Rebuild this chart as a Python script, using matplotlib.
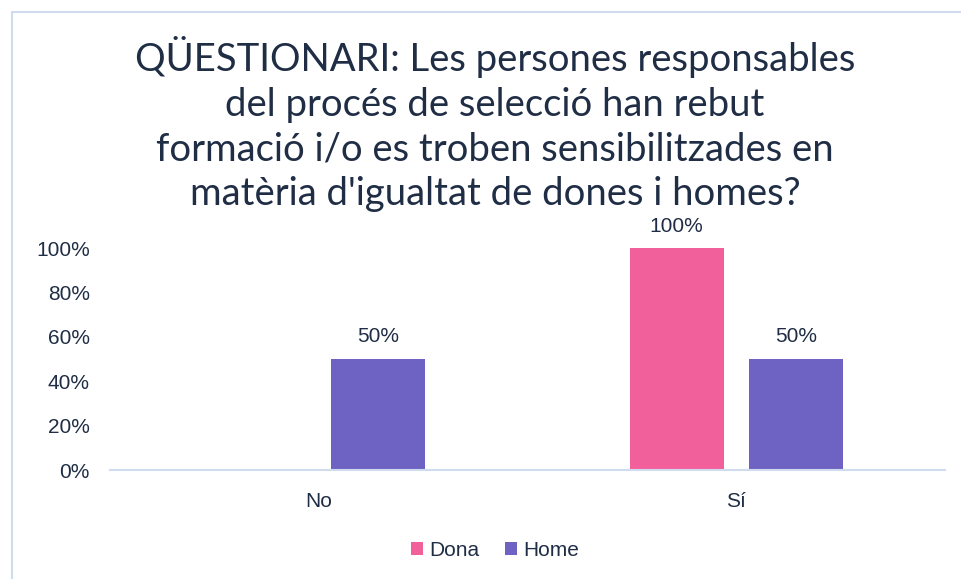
import matplotlib.pyplot as plt
from matplotlib.patches import Rectangle

categories = ['No', 'Sí']
dona = [0, 100]
home = [50, 50]
dona_labels = ['', '100%']
home_labels = ['50%', '50%']
title = ("QÜESTIONARI: Les persones responsables\n"
         "del procés de selecció han rebut\n"
         "formació i/o es troben sensibilitzades en\n"
         "matèria d'igualtat de dones i homes?")

text_col = '#1f2d45'
pink = '#f2609b'
purple = '#6e63c2'
grid_col = '#d0dcee'

plt.rcParams['font.family'] = 'sans-serif'
plt.rcParams['font.sans-serif'] = ['Liberation Sans']

fig = plt.figure(figsize=(9.61, 5.79), dpi=100)
fig.patches.append(Rectangle((12 / 961, -0.05), 1.0, 1 - 12 / 579 + 0.05,
                             transform=fig.transFigure, fill=False,
                             edgecolor=grid_col, linewidth=1.5))

ax = fig.add_axes([110 / 961, (579 - 470) / 579, 835 / 961, 222 / 579])
x = list(range(len(categories)))
off = 0.143
w = 0.225
b1 = ax.bar([i - off for i in x], dona, w, color=pink, label='Dona')
b2 = ax.bar([i + off for i in x], home, w, color=purple, label='Home')
for rects, labs in [(b1, dona_labels), (b2, home_labels)]:
    for r, lab in zip(rects, labs):
        if lab:
            ax.annotate(lab, (r.get_x() + r.get_width() / 2, r.get_height()),
                        xytext=(0, 9), textcoords='offset points',
                        ha='center', va='bottom', fontsize=15, color=text_col)

ax.set_xlim(-0.5, 1.5)
ax.set_ylim(0, 100)
ax.set_yticks([0, 20, 40, 60, 80, 100])
ax.set_yticklabels(['0%', '20%', '40%', '60%', '80%', '100%'])
ax.set_xticks(x)
ax.set_xticklabels(categories)
ax.tick_params(axis='both', length=0, labelsize=15, labelcolor=text_col)
ax.tick_params(axis='y', pad=14.5)
ax.tick_params(axis='x', pad=16)
for s in ['top', 'right', 'left']:
    ax.spines[s].set_visible(False)
ax.spines['bottom'].set_color(grid_col)
ax.spines['bottom'].set_linewidth(1.5)

fig.text(495 / 961, 1 - 36 / 579, title, ha='center', va='top',
         fontsize=27.5, color=text_col, family='Lato',
         linespacing=1.3)

fig.legend(handles=[b1, b2], loc='center', bbox_to_anchor=(495 / 961, 1 - 550 / 579),
           ncol=2, frameon=False, fontsize=15, labelcolor=text_col,
           handlelength=0.6, handleheight=0.6, handletextpad=0.3, columnspacing=1.2)

fig.savefig('out.png', dpi=100)
